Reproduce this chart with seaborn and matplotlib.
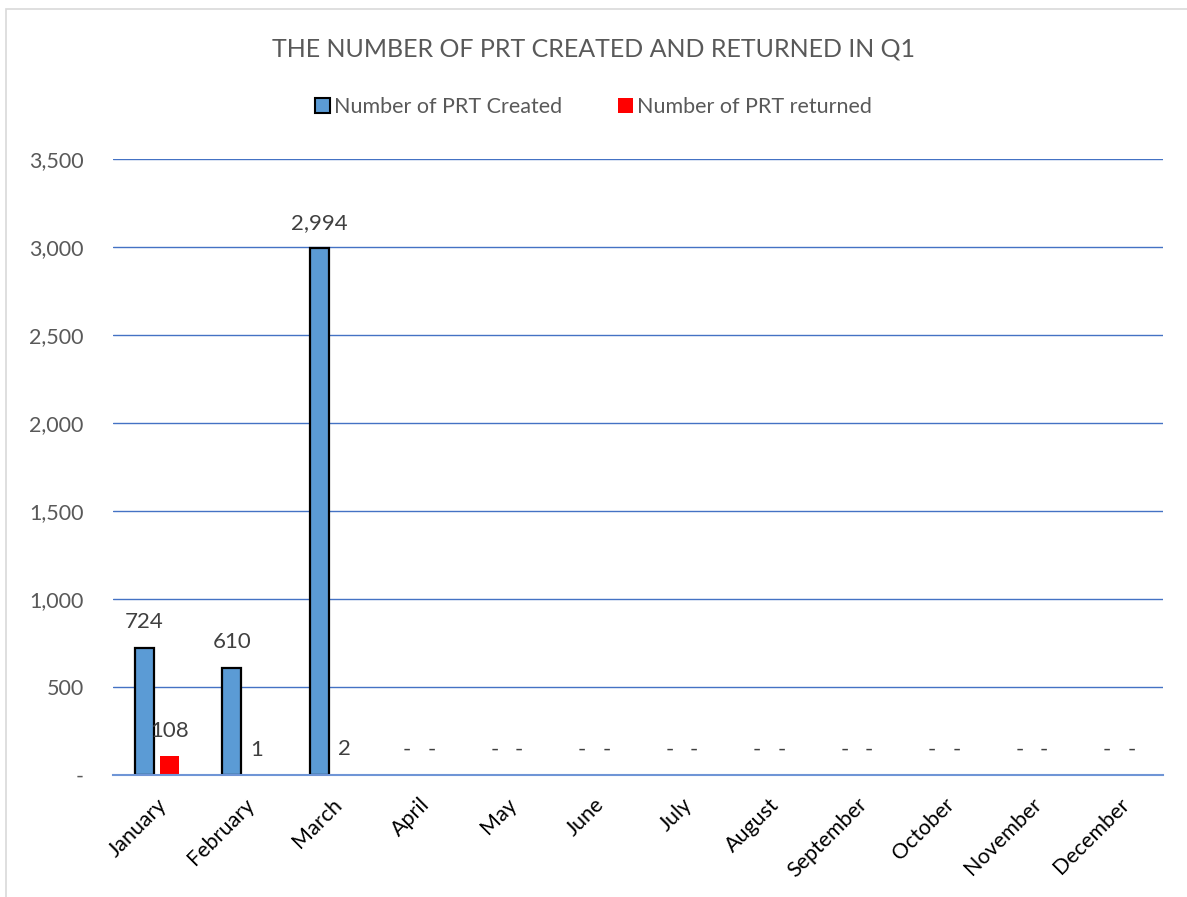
import matplotlib
matplotlib.use("Agg")
import matplotlib.pyplot as plt
import seaborn as sns
import pandas as pd
from matplotlib.patches import Rectangle
from matplotlib.ticker import FuncFormatter

months = ["January", "February", "March", "April", "May", "June", "July",
          "August", "September", "October", "November", "December"]
created = [724, 610, 2994, 0, 0, 0, 0, 0, 0, 0, 0, 0]
returned = [108, 1, 2, 0, 0, 0, 0, 0, 0, 0, 0, 0]
series_names = ["Number of PRT Created", "Number of PRT returned"]
yticks = [0, 500, 1000, 1500, 2000, 2500, 3000, 3500]

df = pd.DataFrame({
    "month": months * 2,
    "value": created + returned,
    "series": [series_names[0]] * 12 + [series_names[1]] * 12,
})

sns.set_theme(style="white")
plt.rcParams["font.family"] = ["Lato", "DejaVu Sans"]

fig = plt.figure(figsize=(11.87, 8.97), dpi=100)
ax = fig.add_axes([113 / 1187, 122 / 897, (1163 - 113) / 1187, (775 - 159) / 897])

palette = {series_names[0]: "#5B9BD5", series_names[1]: "#FF0000"}
sns.barplot(data=df, x="month", y="value", hue="series", order=months,
            hue_order=series_names, palette=palette, width=0.57, gap=0.23,
            saturation=1, ax=ax, legend=False)

n = len(months)
for i, p in enumerate(ax.patches[:2 * n]):
    if i < n and p.get_height() > 0:
        p.set_edgecolor("black")
        p.set_linewidth(1.6)
    else:
        p.set_edgecolor("none")
        p.set_linewidth(0)

for i, p in enumerate(ax.patches[:2 * n]):
    h = p.get_height()
    txt = "-" if h == 0 else f"{int(h):,}"
    ax.annotate(txt, (p.get_x() + p.get_width() / 2, h),
                xytext=(0, 11), textcoords="offset points",
                ha="center", va="bottom", fontsize=16, color="#404040")

ax.set_ylim(0, 3500)
ax.set_xlim(-0.5, n - 0.5)
ax.set_yticks(yticks)
ax.yaxis.set_major_formatter(FuncFormatter(lambda v, _: "-" if v == 0 else f"{int(v):,}"))
ax.tick_params(axis="y", labelsize=15.5, labelcolor="#595959", length=0, pad=21)
ax.tick_params(axis="x", labelsize=15.5, labelcolor="black", length=0, pad=14)
plt.setp(ax.get_xticklabels(), rotation=45, ha="right", rotation_mode="anchor")
ax.set_xlabel("")
ax.set_ylabel("")
ax.grid(axis="y", color="#4472C4", linewidth=1.0)
ax.grid(axis="x", visible=False)
ax.set_axisbelow(True)
for s in ["left", "right", "top"]:
    ax.spines[s].set_visible(False)
ax.spines["bottom"].set_color("#6F95D6")
ax.spines["bottom"].set_linewidth(1.5)

fig.text(0.5, 1 - 49 / 897, "THE NUMBER OF PRT CREATED AND RETURNED IN Q1",
         ha="center", va="center", fontsize=18, color="#595959")

handles = [
    Rectangle((0, 0), 1, 1, facecolor="#5B9BD5", edgecolor="black", linewidth=1.5),
    Rectangle((0, 0), 1, 1, facecolor="#FF0000", edgecolor="none"),
]
fig.legend(handles, series_names, loc="center", bbox_to_anchor=(0.5, 1 - 107 / 897),
           ncol=2, frameon=False, fontsize=15.5, handlelength=0.7, handleheight=0.7,
           handletextpad=0.2, columnspacing=2.6, labelcolor="#595959")

fig.patches.append(Rectangle((6 / 1187, -0.01), 1.02, 1 - 9 / 897 + 0.01,
                             transform=fig.transFigure, fill=False,
                             edgecolor="#D9D9D9", linewidth=1.2))

fig.savefig("out.png", dpi=100)
